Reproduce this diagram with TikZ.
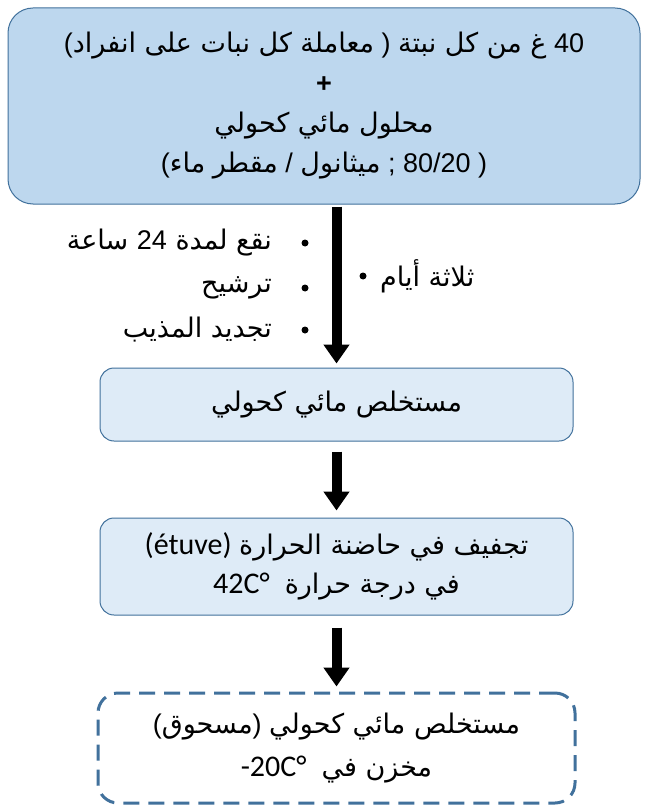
\documentclass[tikz,border=0pt]{standalone}
\usepackage{fontspec}
\usetikzlibrary{arrows.meta,calc}
\setmainfont{Liberation Sans}
\newfontfamily\arabicfont[Script=Arabic]{DejaVu Sans}
\newfontfamily\calfontA{Carlito}
\newcommand\calfont{\calfontA\fontsize{30}{40}\selectfont}
\TeXXeTstate=1
\definecolor{boxline}{RGB}{65,113,156}
\definecolor{fillA}{RGB}{189,215,238}
\definecolor{fillB}{RGB}{222,235,247}
\newcommand\AR[1]{{\arabicfont\beginR #1\endR}}
\tikzset{
  basebox/.style={draw=boxline, line width=1pt, inner sep=0pt, align=center},
  boxA/.style={basebox, fill=fillA, rounded corners=25pt, minimum width=632pt, minimum height=196pt,
    font=\fontsize{27}{40}\selectfont},
  boxB/.style={basebox, fill=fillB, rounded corners=14pt, minimum width=473pt},
  boxC/.style={draw=boxline, line width=3pt, dash pattern=on 16pt off 9pt, rounded corners=20pt,
    inner sep=0pt, align=center, minimum width=477pt, minimum height=110pt},
  txt/.style={font=\fontsize{27}{40}\selectfont, inner sep=0pt},
  dot/.style={circle, fill=black, inner sep=0pt, minimum size=7pt},
  bigarrow/.style={line width=10pt, -{Triangle[width=25pt,length=19pt]}},
}
\begin{document}
\begin{tikzpicture}[x=1pt,y=-1pt]
\useasboundingbox[fill=white] (0,0) rectangle (653,805);
\node[boxA] (b1) at (324,106) {%
  (\AR{معاملة كل نبات على انفراد} ) \AR{غ من كل نبتة} 40\\
  \textbf{+}\\
  \AR{محلول مائي كحولي}\\
  (\AR{ماء} \AR{مقطر} / \AR{ميثانول} ; 80/20 )};
\node[boxB, minimum height=73pt, font=\fontsize{27}{40}\selectfont] (b2) at (336.5,404.5)
  {\AR{مستخلص مائي كحولي}};
\node[boxB, minimum height=97pt, font=\fontsize{27}{39}\selectfont] (b3) at (336.5,566.5)
  {{\calfont (étuve)} \AR{تجفيف في حاضنة الحرارة}\\
   {\calfont 42C°}\ \ \AR{في درجة حرارة}};
\node[boxC, font=\fontsize{27}{43}\selectfont] (b4) at (336.5,748)
  {(\AR{مسحوق}) \AR{مستخلص مائي كحولي}\\
   {\calfont -20C°}\ \ \AR{مخزن في}};
% bullets
\node[dot] (d1) at (305,243) {};
\node[dot] (d2) at (305,288) {};
\node[dot] (d3) at (305,330) {};
\node[dot] (d4) at (363,276) {};
\node[txt, anchor=east] (t1) at (272,243) {\AR{نقع لمدة {\rmfamily 24} ساعة}};
\node[txt, anchor=east] (t2) at (272,288) {\AR{ترشيح}};
\node[txt, anchor=east] (t3) at (272,330) {\AR{تجديد المذيب}};
\node[txt, anchor=west] (t4) at (380,276) {\AR{ثلاثة أيام}};
% arrows
\draw[bigarrow, shorten <=2pt, shorten >=4pt] (b2.north |- b1.south) -- (b2.north);
\draw[bigarrow, shorten <=10pt, shorten >=7pt] (b2.south) -- (b3.north);
\draw[bigarrow, shorten <=12pt, shorten >=5pt] (b3.south) -- (b4.north);
\end{tikzpicture}
\end{document}
